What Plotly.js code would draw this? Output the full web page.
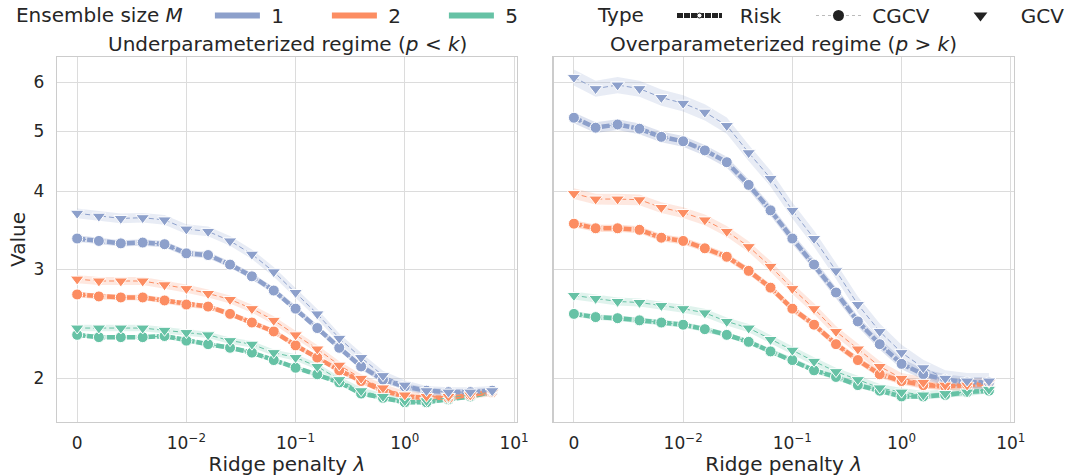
<!DOCTYPE html>
<html><head><meta charset="utf-8">
<script src="https://cdn.plot.ly/plotly-3.0.1.min.js"></script>
<style>html,body{margin:0;padding:0;background:#fff}#chart{width:1075px;height:476px}</style>
</head><body><div id="chart"></div>
<script>
// Ridge penalty values (λ = 0 sits at the linear-threshold position of the symlog axis)
const lambdas = [0, 0.00158, 0.00251, 0.00398, 0.00631, 0.01, 0.0158, 0.0251, 0.0398, 0.0631,
                 0.1, 0.158, 0.251, 0.398, 0.631, 1, 1.58, 2.51, 3.98, 6.31];
const zeroPosition = 0.001;
const ensembleSizes = ['1', '2', '5'];
const typeLabels = ['Risk', 'CGCV', 'GCV'];
const xTickVals = [0.001, 0.01, 0.1, 1, 10];
const xTickText = ['0', '10<sup>−2</sup>', '10<sup>−1</sup>', '10<sup>0</sup>', '10<sup>1</sup>'];
const yTickVals = [2, 3, 4, 5, 6];
const panelTitles = ['Underparameterized regime (<i>p</i> < <i>k</i>)', 'Overparameterized regime (<i>p</i> > <i>k</i>)'];

// Underparameterized regime
const underRiskM1 = [3.36, 3.33, 3.30, 3.31, 3.29, 3.18, 3.16, 3.05, 2.92, 2.77, 2.59, 2.41, 2.24, 2.09, 1.99, 1.94, 1.91, 1.90, 1.90, 1.91];
const underCgcvM1 = [3.36, 3.33, 3.30, 3.31, 3.29, 3.18, 3.16, 3.05, 2.92, 2.77, 2.59, 2.41, 2.24, 2.09, 1.99, 1.94, 1.91, 1.90, 1.90, 1.91];
const underGcvM1  = [3.69, 3.65, 3.62, 3.63, 3.60, 3.48, 3.45, 3.33, 3.17, 2.97, 2.75, 2.54, 2.32, 2.16, 2.02, 1.95, 1.91, 1.90, 1.90, 1.91];
const underRiskM2 = [2.73, 2.71, 2.70, 2.70, 2.67, 2.63, 2.61, 2.54, 2.46, 2.38, 2.26, 2.16, 2.06, 1.98, 1.91, 1.87, 1.86, 1.86, 1.88, 1.90];
const underCgcvM2 = [2.73, 2.71, 2.70, 2.70, 2.67, 2.63, 2.61, 2.54, 2.46, 2.38, 2.26, 2.16, 2.06, 1.98, 1.91, 1.87, 1.86, 1.86, 1.88, 1.90];
const underGcvM2  = [2.89, 2.87, 2.87, 2.87, 2.83, 2.79, 2.74, 2.68, 2.59, 2.48, 2.35, 2.23, 2.10, 2.00, 1.93, 1.88, 1.87, 1.87, 1.88, 1.90];
const underRiskM5 = [2.35, 2.33, 2.33, 2.33, 2.34, 2.30, 2.27, 2.24, 2.20, 2.14, 2.08, 2.03, 1.97, 1.89, 1.86, 1.83, 1.83, 1.85, 1.87, 1.90];
const underCgcvM5 = [2.35, 2.33, 2.33, 2.33, 2.34, 2.30, 2.27, 2.24, 2.20, 2.14, 2.08, 2.03, 1.97, 1.89, 1.86, 1.83, 1.83, 1.85, 1.87, 1.90];
const underGcvM5  = [2.41, 2.41, 2.41, 2.41, 2.39, 2.37, 2.35, 2.30, 2.27, 2.20, 2.16, 2.09, 1.99, 1.91, 1.87, 1.84, 1.84, 1.86, 1.88, 1.90];

// Overparameterized regime
const overRiskM1 = [5.26, 5.07, 5.13, 5.05, 4.90, 4.82, 4.66, 4.46, 4.10, 3.73, 3.36, 3.05, 2.75, 2.47, 2.27, 2.11, 2.03, 1.99, 1.97, 1.97];
const overCgcvM1 = [5.26, 5.07, 5.13, 5.05, 4.90, 4.82, 4.66, 4.46, 4.10, 3.73, 3.36, 3.05, 2.75, 2.47, 2.27, 2.11, 2.03, 1.99, 1.97, 1.97];
const overGcvM1  = [6.11, 5.86, 5.94, 5.86, 5.67, 5.55, 5.37, 5.11, 4.62, 4.20, 3.73, 3.36, 2.98, 2.63, 2.38, 2.20, 2.08, 2.00, 1.98, 1.98];
const overRiskM2 = [3.55, 3.49, 3.49, 3.47, 3.37, 3.33, 3.24, 3.14, 2.98, 2.80, 2.59, 2.44, 2.27, 2.14, 2.03, 1.98, 1.95, 1.94, 1.95, 1.96];
const overCgcvM2 = [3.55, 3.49, 3.49, 3.47, 3.37, 3.33, 3.24, 3.14, 2.98, 2.80, 2.59, 2.44, 2.27, 2.14, 2.03, 1.98, 1.95, 1.94, 1.95, 1.96];
const overGcvM2  = [3.97, 3.89, 3.89, 3.88, 3.77, 3.70, 3.60, 3.45, 3.26, 3.03, 2.79, 2.59, 2.38, 2.23, 2.09, 2.00, 1.97, 1.95, 1.95, 1.97];
const overRiskM5 = [2.54, 2.51, 2.50, 2.48, 2.46, 2.44, 2.40, 2.35, 2.29, 2.21, 2.14, 2.06, 2.01, 1.95, 1.91, 1.87, 1.87, 1.88, 1.90, 1.91];
const overCgcvM5 = [2.54, 2.51, 2.50, 2.48, 2.46, 2.44, 2.40, 2.35, 2.29, 2.21, 2.14, 2.06, 2.01, 1.95, 1.91, 1.87, 1.87, 1.88, 1.90, 1.91];
const overGcvM5  = [2.72, 2.69, 2.66, 2.65, 2.62, 2.59, 2.55, 2.47, 2.41, 2.31, 2.22, 2.13, 2.05, 1.99, 1.93, 1.90, 1.88, 1.89, 1.90, 1.92];

// Relative half-widths of the confidence bands, per ensemble size
const bandRiskUnder = [0.012, 0.010, 0.008];
const bandGcvUnder  = [0.018, 0.015, 0.012];
const bandRiskOver  = [0.020, 0.013, 0.010];
const bandGcvOver   = [0.030, 0.020, 0.015];

const colors = ['#8da0cb', '#fc8d62', '#66c2a5'];
const rgba = (hex, a) => {
  const n = parseInt(hex.slice(1), 16);
  return `rgba(${n >> 16},${(n >> 8) & 255},${n & 255},${a})`;
};
const xs = lambdas.map(v => v === 0 ? zeroPosition : v);

const panels = [
  { xa: 'x', ya: 'y', risk: [underRiskM1, underRiskM2, underRiskM5], cgcv: [underCgcvM1, underCgcvM2, underCgcvM5],
    gcv: [underGcvM1, underGcvM2, underGcvM5], bRisk: bandRiskUnder, bGcv: bandGcvUnder },
  { xa: 'x2', ya: 'y2', risk: [overRiskM1, overRiskM2, overRiskM5], cgcv: [overCgcvM1, overCgcvM2, overCgcvM5],
    gcv: [overGcvM1, overGcvM2, overGcvM5], bRisk: bandRiskOver, bGcv: bandGcvOver }
];

const band = (vals, rel, color, alpha, xa, ya) => ({
  x: xs.concat(xs.slice().reverse()),
  y: vals.map(v => v * (1 + rel)).concat(vals.map(v => v * (1 - rel)).reverse()),
  xaxis: xa, yaxis: ya, type: 'scatter', mode: 'lines', fill: 'toself',
  fillcolor: rgba(color, alpha), line: { width: 0 }, hoverinfo: 'skip', showlegend: false
});

const traces = [];
panels.forEach(p => {
  for (let m = 2; m >= 0; m--) {
    traces.push(band(p.gcv[m], p.bGcv[m], colors[m], 0.2, p.xa, p.ya));
    traces.push(band(p.risk[m], p.bRisk[m], colors[m], 0.3, p.xa, p.ya));
  }
  for (let m = 2; m >= 0; m--) {
    traces.push({ x: xs, y: p.risk[m], xaxis: p.xa, yaxis: p.ya, type: 'scatter', mode: 'lines',
      line: { color: colors[m], width: 4.5, dash: '8px,2px' }, showlegend: false });
    traces.push({ x: xs, y: p.cgcv[m], xaxis: p.xa, yaxis: p.ya, type: 'scatter', mode: 'lines+markers',
      line: { color: colors[m], width: 1, dash: 'dot' },
      marker: { symbol: 'circle', size: 11, color: colors[m], line: { color: '#fff', width: 1 } }, showlegend: false });
  }
  for (let m = 2; m >= 0; m--) {
    traces.push({ x: xs, y: p.gcv[m], xaxis: p.xa, yaxis: p.ya, type: 'scatter', mode: 'lines+markers',
      line: { color: colors[m], width: 1, dash: '5px,3px' },
      marker: { symbol: 'triangle-down', size: 12, color: colors[m], line: { color: '#fff', width: 1 } }, showlegend: false });
  }
});

// Legend entries
const NB = '\u00a0';
ensembleSizes.forEach((s, m) => traces.push({
  x: [null], y: [null], type: 'scatter', mode: 'lines', name: NB + s, legend: 'legend',
  line: { color: colors[m], width: 6 }
}));
traces.push({ x: [null], y: [null], type: 'scatter', mode: 'lines+markers', name: NB.repeat(2) + typeLabels[0], legend: 'legend2',
  line: { color: '#222', width: 5, dash: '6px,1px' }, marker: { symbol: 'circle', size: 5, color: '#fff', line: { color: '#222', width: 1 } } });
traces.push({ x: [null], y: [null], type: 'scatter', mode: 'lines+markers', name: NB + typeLabels[1], legend: 'legend2',
  line: { color: '#bbb', width: 1, dash: 'dot' }, marker: { symbol: 'circle', size: 11, color: '#222' } });
traces.push({ x: [null], y: [null], type: 'scatter', mode: 'markers', name: NB.repeat(2) + typeLabels[2], legend: 'legend3',
  marker: { symbol: 'triangle-down', size: 12, color: '#222' } });

const font = { family: 'DejaVu Sans, sans-serif', color: '#262626' };
const xRange = [-3.185, 1.027];
const yRange = [0.2311, 0.8184];
const xBase = {
  type: 'log', range: xRange, tickvals: xTickVals, ticktext: xTickText,
  showgrid: true, gridcolor: '#dcdcdc', gridwidth: 1, showline: true, mirror: true, linecolor: '#cccccc', linewidth: 1.25,
  ticks: '', zeroline: false, tickfont: { size: 17 }, ticklabelstandoff: 6, automargin: false,
  title: { text: 'Ridge penalty <i>λ</i>', font: { size: 20 }, standoff: 5 }
};
const yBase = {
  type: 'log', range: yRange, tickvals: yTickVals, ticktext: yTickVals.map(String),
  showgrid: true, gridcolor: '#dcdcdc', gridwidth: 1, showline: true, mirror: true, linecolor: '#cccccc', linewidth: 1.25,
  ticks: '', zeroline: false, tickfont: { size: 17 }, ticklabelstandoff: 8, automargin: false,
  domain: [0.1141, 0.8796]
};

const legendCommon = {
  orientation: 'h', y: 1.0084, xanchor: 'left', yanchor: 'top', font: { size: 20 },
  bgcolor: 'rgba(0,0,0,0)', itemwidth: 45
};
const layout = {
  width: 1075, height: 476, font: font, paper_bgcolor: '#fff', plot_bgcolor: '#fff',
  margin: { l: 0, r: 0, t: 0, b: 0, autoexpand: false },
  xaxis: Object.assign({}, xBase, { domain: [0.0530, 0.4809], anchor: 'y' }),
  xaxis2: Object.assign({}, xBase, { domain: [0.5151, 0.9430], anchor: 'y2' }),
  yaxis: Object.assign({}, yBase, { anchor: 'x', title: { text: 'Value', font: { size: 20 }, standoff: 2 } }),
  yaxis2: Object.assign({}, yBase, { anchor: 'x2', matches: 'y', showticklabels: false }),
  annotations: panelTitles.map((t, i) => ({
    text: t, xref: 'paper', yref: 'paper', x: i === 0 ? 0.267 : 0.729, y: 0.908,
    xanchor: 'center', yanchor: 'middle', showarrow: false, font: { size: 20 }
  })),
  legend: Object.assign({}, legendCommon, {
    x: 0.013, entrywidth: 57,
    title: { text: 'Ensemble size <i>M</i>' + NB.repeat(3), side: 'left', font: { size: 20 } }
  }),
  legend2: Object.assign({}, legendCommon, {
    x: 0.5544, entrywidth: 79,
    title: { text: 'Type' + NB.repeat(3), side: 'left', font: { size: 20 } }
  }),
  legend3: Object.assign({}, legendCommon, { x: 0.8865 }),
  showlegend: true
};

Plotly.newPlot('chart', traces, layout, { displayModeBar: false, staticPlot: true });
</script></body></html>
